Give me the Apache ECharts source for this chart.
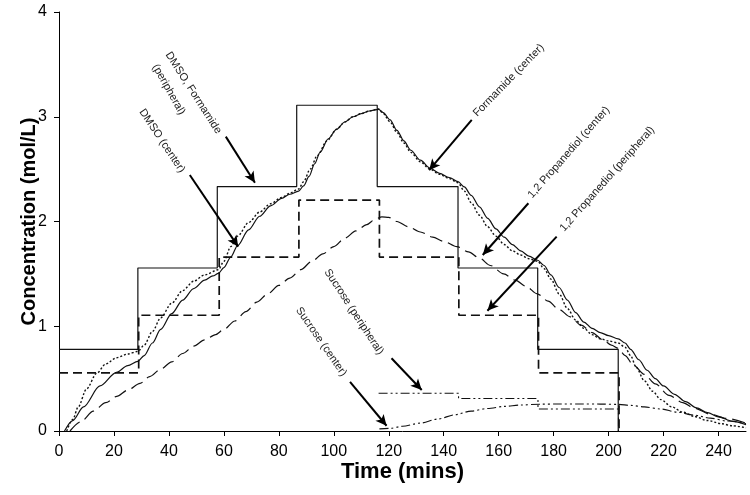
<!DOCTYPE html>
<html><head><meta charset="utf-8">
<script src="https://cdn.jsdelivr.net/npm/echarts@6/dist/echarts.min.js"></script>
<style>html,body{margin:0;padding:0;background:#fff}#c{width:750px;height:495px}</style>
</head><body><div id="c"></div>
<script>
// ---- tick labels ----
const xTickValues = [0,20,40,60,80,100,120,140,160,180,200,220,240];
const yTickValues = [0,1,2,3,4];

// ---- peripheral (bath) step concentrations ----
const dmsoStepTimes = [0, 28.7, 57.6, 86.5, 115.8, 145.2, 174.2, 203.5];
const dmsoFormPeriphLevels = [0.78, 1.556, 2.333, 3.11, 2.333, 1.556, 0.78];

const pdStepTimes = [0, 29.0, 58.3, 87.3, 116.6, 145.5, 174.5, 203.8];
const pdPeriphLevels = [0.555, 1.105, 1.66, 2.205, 1.66, 1.105, 0.555];

const sucroseStepTimes = [116.3, 145.4, 174.3, 203.6];
const sucrosePeriphLevels = [0.36, 0.31, 0.21];

// ---- center concentration curves ----
const dmsoCenterT = [2, 5, 8.9, 14.9, 20.9, 25, 28.7, 31, 34, 37, 41, 45, 49, 53, 56, 58, 60, 62.5, 65, 69, 73, 77, 81, 84, 87.2, 89, 91, 93, 95, 98, 101, 104, 107, 110, 113, 116.3, 118, 120.5, 123, 125.5, 128, 131.5, 135, 138.5, 142, 145.2, 147.5, 150, 153, 156, 159, 162, 165, 168, 171, 174.2, 176.5, 179, 182, 185, 188, 191, 194, 197, 200, 203.5, 206, 208, 211, 214, 217, 220, 224, 228, 232, 236, 240, 245, 250];
const dmsoCenterV = [0, 0.1, 0.23, 0.43, 0.56, 0.625, 0.665, 0.72, 0.84, 0.97, 1.12, 1.25, 1.36, 1.44, 1.48, 1.505, 1.56, 1.66, 1.77, 1.92, 2.05, 2.15, 2.22, 2.26, 2.29, 2.34, 2.43, 2.55, 2.66, 2.79, 2.88, 2.95, 3.0, 3.03, 3.055, 3.07, 3.04, 2.97, 2.87, 2.77, 2.68, 2.585, 2.51, 2.46, 2.42, 2.38, 2.33, 2.25, 2.14, 2.03, 1.93, 1.85, 1.78, 1.72, 1.67, 1.63, 1.58, 1.49, 1.37, 1.25, 1.13, 1.04, 0.98, 0.94, 0.91, 0.88, 0.84, 0.78, 0.68, 0.58, 0.5, 0.43, 0.35, 0.28, 0.22, 0.175, 0.135, 0.095, 0.06];

const formCenterT = [2.8, 5, 7, 10, 13.7, 17, 21, 25, 28.7, 31, 34, 37, 41, 45, 49, 53, 58, 60, 62.5, 65, 69, 73, 77, 81, 84, 87.2, 89, 91.4, 94, 97.5, 101, 104, 107, 110, 113, 116.3, 118, 120.5, 123, 125.5, 128, 131.5, 135, 138.5, 142, 145.2, 147.5, 150, 153, 156, 159, 162, 165, 168, 171, 174.2, 176.5, 179, 182, 185, 188, 191, 194, 197, 200, 203.5, 206, 208, 210, 213, 216, 219, 223, 227, 231, 236, 241, 245, 250];
const formCenterV = [0, 0.11, 0.23, 0.4, 0.55, 0.64, 0.7, 0.735, 0.76, 0.82, 0.95, 1.08, 1.22, 1.34, 1.43, 1.49, 1.54, 1.62, 1.76, 1.86, 1.99, 2.09, 2.17, 2.23, 2.27, 2.31, 2.38, 2.5, 2.63, 2.77, 2.88, 2.95, 3.0, 3.03, 3.055, 3.075, 3.03, 2.95, 2.85, 2.75, 2.66, 2.57, 2.5, 2.45, 2.41, 2.37, 2.29, 2.18, 2.06, 1.95, 1.86, 1.78, 1.72, 1.68, 1.645, 1.62, 1.55, 1.45, 1.31, 1.17, 1.06, 0.98, 0.92, 0.88, 0.86, 0.84, 0.8, 0.72, 0.61, 0.48, 0.38, 0.3, 0.23, 0.18, 0.14, 0.1, 0.07, 0.05, 0.03];

const pdCenterT = [4, 8, 12.5, 17, 21, 25, 29.5, 33, 37, 41, 45, 49, 53, 57, 60, 64, 68, 72, 76, 80, 84, 88, 92, 96, 100, 104, 108, 112, 115, 117.5, 120, 123, 127, 131.5, 136, 140, 144.8, 149, 153, 157, 161.8, 166, 170, 174, 178, 182, 186, 190, 194, 198, 201, 203.5, 206, 209, 213, 217, 222, 227, 231, 237, 243, 250];
const pdCenterV = [0, 0.09, 0.19, 0.27, 0.33, 0.39, 0.455, 0.52, 0.59, 0.66, 0.74, 0.81, 0.87, 0.92, 0.97, 1.05, 1.14, 1.23, 1.31, 1.39, 1.46, 1.54, 1.62, 1.69, 1.76, 1.84, 1.91, 1.97, 2.02, 2.045, 2.04, 2.0, 1.95, 1.9, 1.85, 1.81, 1.76, 1.71, 1.65, 1.58, 1.5, 1.44, 1.38, 1.31, 1.24, 1.16, 1.09, 1.01, 0.94, 0.87, 0.82, 0.79, 0.72, 0.63, 0.54, 0.45, 0.34, 0.27, 0.22, 0.16, 0.12, 0.075];

const sucroseCenterT = [116.6, 120.5, 125, 131.5, 138, 144, 150, 156, 162, 168, 175, 182, 190, 197, 203.6, 208, 213, 219, 225, 231, 237, 243, 250];
const sucroseCenterV = [0.02, 0.025, 0.045, 0.075, 0.115, 0.155, 0.19, 0.215, 0.235, 0.248, 0.256, 0.258, 0.258, 0.257, 0.254, 0.245, 0.23, 0.21, 0.18, 0.152, 0.123, 0.095, 0.07];

// ---- annotations (data coordinates) ----
const noteTexts = ['DMSO, Formamide', '(peripheral)', 'DMSO (center)', 'Formamide (center)', '1,2 Propanediol (center)', '1,2 Propanediol (peripheral)', 'Sucrose (peripheral)', 'Sucrose (center)'];
const noteAnchors = [[39.6, 3.609], [34.85, 3.494], [30.0, 3.064], [151.4, 3.017], [171.4, 2.237], [183.0, 1.919], [97.4, 1.537], [87.0, 1.171]];
const noteAngles = [57.3, 60.6, 56.3, -45.8, -48.8, -48.4, 57, 55.3];
const arrowLines = [[60.7, 2.81, 71.3, 2.37], [47.6, 2.444, 65.2, 1.76], [150.2, 2.97, 134.7, 2.49], [170.8, 2.174, 154.2, 1.68], [181.1, 1.855, 155.9, 1.148], [121.0, 0.694, 132.0, 0.391], [105.9, 0.47, 119.2, 0.05]];

function stepData(times, levels) {
  const out = [];
  for (let i = 0; i < levels.length; i++) {
    out.push([times[i], levels[i]]);
    out.push([times[i + 1], levels[i]]);
  }
  out.push([times[times.length - 1], 0]);
  return out;
}
function zip(t, v) { return t.map((x, i) => [x, v[i]]); }

const FONT = 'Liberation Sans, Arial, sans-serif';
const chart = echarts.init(document.getElementById('c'));

function lineSeries(name, data, style, smooth) {
  return {
    name, type: 'line', data, symbol: 'none', showSymbol: false,
    smooth: smooth ? 0.3 : false, smoothMonotone: 'x',
    lineStyle: Object.assign({ color: '#111', width: 1.2, type: 'solid' }, style),
    emphasis: { disabled: true }, silent: true, animation: false, z: 3
  };
}

const series = [
  lineSeries('DMSO, Formamide (peripheral)', stepData(dmsoStepTimes, dmsoFormPeriphLevels), { width: 1.2 }),
  lineSeries('1,2 Propanediol (peripheral)', stepData(pdStepTimes, pdPeriphLevels), { width: 1.7, type: [9, 5] }),
  lineSeries('Sucrose (peripheral)', stepData(sucroseStepTimes, sucrosePeriphLevels), { width: 1.1, type: [9, 3, 2, 3, 2, 3] }),
  lineSeries('DMSO (center)', zip(dmsoCenterT, dmsoCenterV), { width: 1.2 }, true),
  lineSeries('Formamide (center)', zip(formCenterT, formCenterV), { width: 1.4, type: [2, 2] }, true),
  lineSeries('1,2 Propanediol (center)', zip(pdCenterT, pdCenterV), { width: 1.2, type: [13, 6] }, true),
  lineSeries('Sucrose (center)', zip(sucroseCenterT, sucroseCenterV), { width: 1.1, type: [9, 3, 2, 3, 2, 3] }, true)
];
series[0].markLine = {
  silent: true, animation: false,
  symbol: ['none', 'arrow'], symbolSize: [8, 11],
  label: { show: false },
  emphasis: { disabled: true },
  lineStyle: { color: '#000', width: 2, type: 'solid' },
  data: arrowLines.map(a => [{ coord: [a[0], a[1]] }, { coord: [a[2], a[3]] }])
};

chart.setOption({
  backgroundColor: '#fff',
  animation: false,
  grid: { left: 59, right: 4, top: 12, bottom: 64, containLabel: false },
  xAxis: {
    type: 'value', min: 0, max: 250, interval: 20,
    name: 'Time (mins)', nameLocation: 'middle', nameGap: 30, nameMoveOverlap: false,
    nameTextStyle: { fontFamily: FONT, fontSize: 22, fontWeight: 'bold', color: '#000' },
    axisLine: { lineStyle: { color: '#000', width: 1 } },
    axisTick: { show: true, length: 5, inside: false, customValues: xTickValues, lineStyle: { color: '#000' } },
    axisLabel: { customValues: xTickValues, fontFamily: FONT, fontSize: 16, color: '#000', margin: 13 },
    splitLine: { show: false }
  },
  yAxis: {
    type: 'value', min: 0, max: 4, interval: 1,
    name: 'Concentration (mol/L)', nameLocation: 'middle', nameGap: 20, nameMoveOverlap: false,
    nameTextStyle: { fontFamily: FONT, fontSize: 20, fontWeight: 'bold', color: '#000' },
    axisLine: { show: true, lineStyle: { color: '#000', width: 1 } },
    axisTick: { show: true, length: 5, inside: false, customValues: yTickValues, lineStyle: { color: '#000' } },
    axisLabel: { customValues: yTickValues, fontFamily: FONT, fontSize: 16, color: '#000', margin: 12 },
    splitLine: { show: false }
  },
  series
});

const graphics = noteTexts.map((txt, i) => {
  const p = chart.convertToPixel({ gridIndex: 0 }, noteAnchors[i]);
  return {
    type: 'text', x: p[0], y: p[1], rotation: -noteAngles[i] * Math.PI / 180,
    silent: true, z: 10,
    style: { text: txt, fontFamily: FONT, fontSize: 11, fill: '#222', align: 'left', verticalAlign: 'middle' }
  };
});
chart.setOption({ graphic: graphics });
</script>
</body></html>
